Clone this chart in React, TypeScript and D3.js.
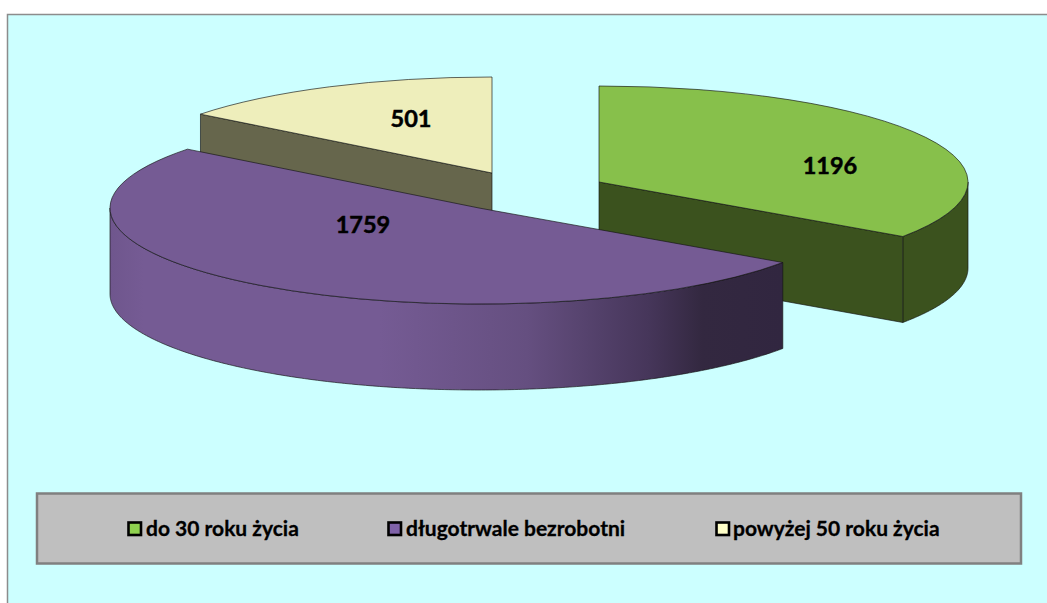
import React from "react";
import * as d3 from "d3";

const categories = ["do 30 roku życia", "długotrwale bezrobotni", "powyżej 50 roku życia"];
const values = [1196, 1759, 501];
const topColors = ["#87c04b", "#755b94", "#eeeebb"];
const swatchColors = ["#8fd14f", "#7f62a8", "#ffffc8"];
const sideColors = ["#3b521e", "#755b94", "#66664c"];

const width = 1047;
const height = 603;
const radius = 369;
const tilt = 96 / 369;
const depth = 86;

// where each exploded slice has its apex, and where its label goes
const centers: [number, number][] = [[599, 182], [479, 208], [492, 173]];
const labelSpots: [number, number][] = [[830, 174], [363, 233], [411, 127]];
const legendX = [128, 388, 716];
const legendTextX = [146, 406, 733];

const pieData = d3.pie<number>().sort(null).startAngle(0).endAngle(2 * Math.PI)(values);
const topArc = d3.arc<d3.PieArcDatum<number>>().innerRadius(0).outerRadius(radius);

const rim = (c: [number, number], a: number): [number, number] => [
  c[0] + radius * Math.sin(a),
  c[1] - radius * tilt * Math.cos(a),
];

const outline = d3.line();

// outer wall between two angles
const wallPath = (c: [number, number], a0: number, a1: number) => {
  const upper = d3.range(a0, a1, 0.01).concat(a1).map((a) => rim(c, a));
  const lower = upper.map(([x, y]) => [x, y + depth] as [number, number]).reverse();
  return outline(upper.concat(lower)) + "Z";
};

// straight wall from the apex out to the rim
const facePath = (c: [number, number], a: number) => {
  const p = rim(c, a);
  return outline([c, p, [p[0], p[1] + depth], [c[0], c[1] + depth]]) + "Z";
};

const edge = "rgba(20,20,20,0.65)";

export default function App() {
  const [green, purple, yellow] = pieData;
  return (
    <svg
      width={width}
      height={height}
      style={{ position: "fixed", left: 0, top: 0, display: "block", fontFamily: "Lato, sans-serif" }}
    >
      <defs>
        <linearGradient id="purpleWall" gradientUnits="userSpaceOnUse" x1={110} x2={783} y1={0} y2={0}>
          <stop offset="0" stopColor="#6f568d" />
          <stop offset="0.05" stopColor="#755b94" />
          <stop offset="0.4" stopColor="#755b94" />
          <stop offset="0.62" stopColor="#654f80" />
          <stop offset="0.8" stopColor="#46365a" />
          <stop offset="0.88" stopColor="#332840" />
          <stop offset="1" stopColor="#312640" />
        </linearGradient>
      </defs>
      <rect x={0} y={0} width={width} height={height} fill="#ffffff" />
      <rect x={7.5} y={14.5} width={width} height={height} fill="#ccffff" stroke="#8c8c8c" strokeWidth={1.5} />

      {/* yellow goes first, green next, purple on top */}
      <path d={facePath(centers[2], yellow.startAngle)} fill={sideColors[2]} stroke={edge} />
      <path
        d={topArc(yellow) ?? ""}
        transform={`translate(${centers[2][0]},${centers[2][1]}) scale(1,${tilt})`}
        fill={topColors[2]}
        stroke={edge}
        vectorEffect="non-scaling-stroke"
      />

      <path d={wallPath(centers[0], Math.PI / 2, green.endAngle)} fill={sideColors[0]} stroke={edge} />
      <path d={facePath(centers[0], green.endAngle)} fill={sideColors[0]} stroke={edge} />
      <path
        d={topArc(green) ?? ""}
        transform={`translate(${centers[0][0]},${centers[0][1]}) scale(1,${tilt})`}
        fill={topColors[0]}
        stroke={edge}
        vectorEffect="non-scaling-stroke"
      />

      <path d={wallPath(centers[1], purple.startAngle, (3 * Math.PI) / 2)} fill="url(#purpleWall)" stroke={edge} />
      <path
        d={topArc(purple) ?? ""}
        transform={`translate(${centers[1][0]},${centers[1][1]}) scale(1,${tilt})`}
        fill={topColors[1]}
        stroke={edge}
        vectorEffect="non-scaling-stroke"
      />

      {values.map((v, i) => (
        <text
          key={v}
          x={labelSpots[i][0]}
          y={labelSpots[i][1]}
          textAnchor="middle"
          fontSize={23.5}
          fontWeight={700}
          stroke="#000"
          strokeWidth={0.5}
        >
          {v}
        </text>
      ))}

      <rect x={37} y={493.5} width={984} height={70} fill="#bfbfbf" stroke="#808080" strokeWidth={2.5} />
      {categories.map((c, i) => (
        <g key={c}>
          <rect x={legendX[i] + 0.5} y={522.5} width={12.5} height={12.5} fill={swatchColors[i]} stroke="#000" strokeWidth={2.6} />
          <text x={legendTextX[i]} y={536} fontSize={21} fontWeight={700} stroke="#000" strokeWidth={0.3}>
            {c}
          </text>
        </g>
      ))}
    </svg>
  );
}
